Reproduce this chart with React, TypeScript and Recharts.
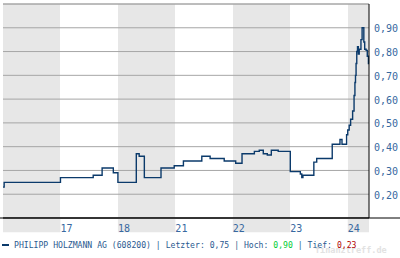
import { LineChart, Line, XAxis, YAxis, CartesianGrid, ReferenceArea, ReferenceLine } from "recharts"

// trading days: index 0 is the unlabeled day before the 17th
const dayTicks = [0, 1, 2, 3, 4, 5, 6]
const dayLabels = ["", "17", "18", "21", "22", "23", "24"]
const shadedDays = [0, 2, 4, 6]
const lastDayEnd = 6.37

const priceTicks = [0.2, 0.3, 0.4, 0.5, 0.6, 0.7, 0.8, 0.9]

// time in trading days since the first session
const times = [
  0, 0.02, 1.0, 1.57, 1.725, 1.92, 2.0, 2.32, 2.37, 2.46, 2.75, 2.98, 3.14, 3.46, 3.605, 3.85, 4.05, 4.16,
  4.375, 4.46, 4.53, 4.6, 4.67, 4.79, 5.0, 5.175, 5.2, 5.22, 5.41, 5.46, 5.73, 5.865, 5.9, 5.98, 6.0, 6.025,
  6.05, 6.085, 6.11, 6.125, 6.135, 6.145, 6.157, 6.17, 6.185, 6.2, 6.23, 6.25, 6.28, 6.295, 6.32, 6.34, 6.36,
  6.37,
]
const prices = [
  0.23, 0.25, 0.27, 0.28, 0.31, 0.29, 0.25, 0.37, 0.36, 0.27, 0.31, 0.32, 0.34, 0.36, 0.35, 0.34, 0.33, 0.37,
  0.38, 0.385, 0.37, 0.365, 0.385, 0.38, 0.295, 0.285, 0.27, 0.28, 0.335, 0.35, 0.41, 0.43, 0.41, 0.45, 0.47,
  0.49, 0.515, 0.55, 0.615, 0.67, 0.7, 0.75, 0.8, 0.82, 0.79, 0.81, 0.85, 0.9, 0.84, 0.81, 0.805, 0.78, 0.75,
  0.75,
]

const stockName = "PHILIPP HOLZMANN AG (608200)"
const lastPrice = 0.75
const highPrice = 0.9
const lowPrice = 0.23

const data = times.map((t, i) => ({ t, price: prices[i] }))

const fmt = (v: number) => v.toFixed(2).replace(".", ",")

const mono = "'DejaVu Sans Mono', monospace"
const tickBlue = "#3768a0"
const lineBlue = "#0b3a6b"
const gridGrey = "#a6a6a6"
const bandGrey = "#e7e7e7"

const DayTick = (props: any) => {
  const { x, y, payload } = props
  return (
    <text x={x} y={y} dy={6} textAnchor="start" fill={tickBlue} fontSize={10} fontFamily={mono}>
      {dayLabels[payload.value]}
    </text>
  )
}

export default function App() {
  return (
    <div style={{ position: "relative", width: 400, height: 258, background: "#fff", fontFamily: mono }}>
      <style>{"body{margin:0}"}</style>
      <LineChart width={400} height={234} data={data} margin={{ top: 4, right: 0, bottom: 0, left: 3 }}>
        <CartesianGrid horizontal={false} vertical stroke="transparent" verticalFill={[bandGrey, "#ffffff"]} />
        <CartesianGrid vertical={false} stroke={gridGrey} />
        {shadedDays.map((d) => (
          <ReferenceArea
            key={d}
            x1={d}
            x2={Math.min(d + 1, lastDayEnd)}
            y1={0.04}
            y2={0.1}
            ifOverflow="visible"
            fill={bandGrey}
            fillOpacity={1}
            stroke="none"
          />
        ))}
        <ReferenceLine y={1} stroke={gridGrey} />
        <XAxis
          type="number"
          dataKey="t"
          domain={[0, lastDayEnd]}
          ticks={dayTicks}
          interval={0}
          height={16}
          tickLine={false}
          axisLine={{ stroke: "#000" }}
          tick={<DayTick />}
        />
        <YAxis
          orientation="right"
          width={31}
          domain={[0.1, 1.0]}
          ticks={priceTicks}
          interval={0}
          tickFormatter={fmt}
          tickLine={false}
          tickSize={3}
          tickMargin={2}
          axisLine={{ stroke: "#000" }}
          tick={{ fill: tickBlue, fontSize: 10, fontFamily: mono, dy: 1 }}
        />
        <ReferenceLine
          segment={[
            { x: -0.06, y: 0.1 },
            { x: 7, y: 0.1 },
          ]}
          ifOverflow="visible"
          stroke="#000"
        />
        <Line
          type="stepAfter"
          dataKey="price"
          stroke={lineBlue}
          strokeWidth={1.4}
          dot={false}
          isAnimationActive={false}
        />
      </LineChart>
      <div
        style={{
          position: "absolute",
          left: 315,
          top: 245,
          fontSize: 8.5,
          fontWeight: "bold",
          color: "#e2e2e2",
          whiteSpace: "nowrap",
        }}
      >
        finanztreff.de
      </div>
      <div style={{ position: "absolute", left: 2, top: 244, width: 7, height: 2, background: lineBlue }} />
      <div
        style={{
          position: "absolute",
          left: 14,
          top: 240,
          fontSize: 8.15,
          lineHeight: "10px",
          color: "#2a5a90",
          whiteSpace: "nowrap",
        }}
      >
        {stockName} | Letzter: {fmt(lastPrice)} | Hoch: <span style={{ color: "#00cc33" }}>{fmt(highPrice)}</span>{" "}
        | Tief: <span style={{ color: "#b00000" }}>{fmt(lowPrice)}</span>
      </div>
    </div>
  )
}
